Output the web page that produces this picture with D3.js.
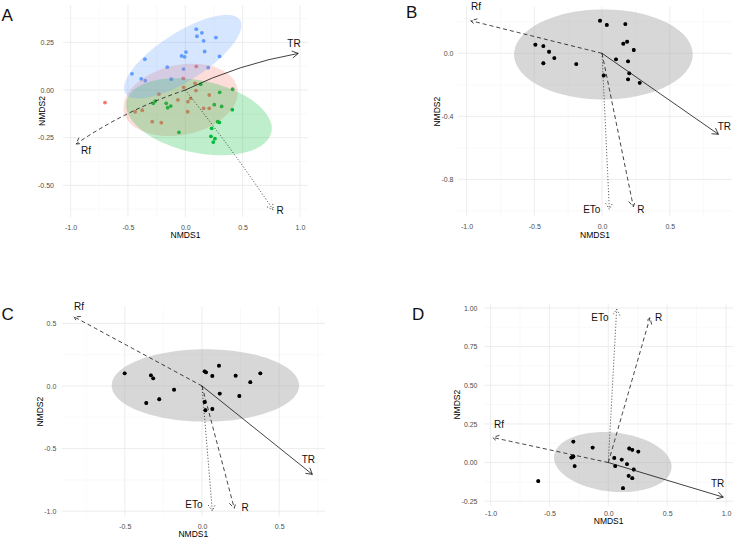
<!DOCTYPE html>
<html>
<head>
<meta charset="utf-8">
<script src="https://cdn.jsdelivr.net/npm/d3@7"></script>
<style>
body { margin: 0; background: #fff; }
text { font-family: "Liberation Sans", Arial, sans-serif; }
</style>
</head>
<body>
<svg id="chart" width="735" height="538"></svg>
<script>
// ---- data (NMDS scores, envfit vectors, ellipses) ----

// panel A: three groups of sites
var ptsA_red = [[-0.700,-0.066],[0.096,0.124],[-0.017,0.061],[-0.014,0.014],[0.085,0.035],[0.093,-0.003],
    [-0.229,-0.021],[-0.064,-0.052],[0.023,-0.061],[0.046,-0.044],[0.209,-0.026],[0.160,-0.096],
    [0.209,-0.096],[0.021,-0.114],[-0.437,-0.114],[-0.375,-0.106],[-0.288,-0.166],[-0.209,-0.171]];
var ptsA_green = [[0.134,0.030],[0.413,0.004],[0.300,-0.012],[-0.262,-0.058],[-0.279,-0.070],[-0.166,-0.070],
    [-0.154,-0.093],[-0.127,-0.084],[0.253,-0.077],[0.317,-0.086],[0.410,-0.103],[0.282,-0.166],
    [0.297,-0.170],[0.230,-0.201],[-0.055,-0.222],[0.224,-0.243],[0.259,-0.255],[0.244,-0.273]];
var ptsA_blue = [[0.096,0.319],[0.145,0.300],[0.102,0.282],[0.267,0.275],[0.160,0.258],[0.006,0.199],
    [0.169,0.202],[-0.032,0.179],[-0.006,0.174],[0.299,0.176],[-0.352,0.162],[-0.157,0.120],
    [-0.015,0.110],[0.200,0.117],[-0.465,0.085],[-0.384,0.059],[-0.349,0.049],[-0.122,0.057]];
// ellipse: centre x, centre y, first half-axis (x,y), second half-axis (x,y)
var ellA_red   = [-0.040,-0.052, 0.494, 0.063, 0.064,-0.179];
var ellA_green = [ 0.119,-0.140, 0.631,-0.081,-0.065,-0.185];
var ellA_blue  = [-0.022, 0.175, 0.499, 0.192, 0.113,-0.106];
var vecA_names = ["TR", "Rf", "R"];
var vecA = [[0.985,0.192],[-0.953,-0.283],[0.767,-0.629]];
var labA = [[0.948,0.245],[-0.866,-0.318],[0.826,-0.633]];
var typeA = ["solid", "dashed", "dotted"];
var bendA = [0.07, -0.07, 0.02];

// panel B
var ptsB = [[-0.015,0.207],[0.035,0.180],[0.172,0.186],[-0.492,0.055],[-0.433,0.046],[-0.391,0.010],
    [-0.352,-0.030],[-0.433,-0.063],[-0.190,-0.068],[0.157,0.061],[0.185,0.074],[0.234,0.021],
    [0.103,-0.038],[0.192,-0.051],[0.201,-0.127],[0.192,-0.165],[0.278,-0.187],[0.012,-0.140]];
var ellB = [0.010,-0.007, 0.659,0, 0,0.286];
var vecB_names = ["Rf", "TR", "ETo", "R"];
var vecB = [[-0.969,0.207],[0.859,-0.514],[0.054,-0.990],[0.231,-0.974]];
var labB = [[-0.930,0.300],[0.903,-0.462],[-0.076,-0.990],[0.286,-0.990]];
var typeB = ["dashed", "solid", "dotted", "dashed"];

// panel C
var ptsC = [[-0.501,0.101],[-0.331,0.085],[-0.316,0.061],[-0.181,-0.030],[-0.361,-0.136],[-0.277,-0.106],
    [0.017,0.117],[0.026,0.109],[0.110,0.162],[0.067,0.080],[0.218,0.082],[0.378,0.101],
    [0.313,0.030],[0.115,-0.061],[0.242,-0.080],[0.017,-0.128],[0.022,-0.194],[0.067,-0.184]];
var ellC = [0.022,0.004, 0.607,0, 0,0.289];
var vecC_names = ["Rf", "TR", "ETo", "R"];
var vecC = [[-0.830,0.553],[0.715,-0.706],[0.067,-0.998],[0.209,-0.977]];
var labC = [[-0.797,0.633],[0.689,-0.591],[-0.052,-0.945],[0.279,-0.972]];
var typeC = ["dashed", "solid", "dotted", "dashed"];

// panel D
var ptsD = [[-0.595,-0.120],[-0.297,0.136],[-0.133,0.097],[-0.297,0.039],[-0.314,0.032],[-0.305,0.036],
    [-0.286,-0.023],[0.178,0.091],[0.204,0.082],[0.255,0.071],[0.051,0.030],[0.114,0.019],
    [0.059,-0.023],[0.159,-0.010],[0.216,-0.045],[0.173,-0.086],[0.204,-0.101],[0.125,-0.166]];
var ellD = [0.038,0.003, 0.499,-0.040, -0.026,-0.190];
var vecD_names = ["ETo", "R", "Rf", "TR"];
var vecD = [[0.071,0.992],[0.354,0.937],[-0.982,0.162],[0.977,-0.224]];
var labD = [[-0.071,0.940],[0.428,0.940],[-0.929,0.244],[0.929,-0.133]];
var typeD = ["dotted", "dashed", "dashed", "solid"];

// axis breaks
var xTicksA = [-1, -0.5, 0, 0.5, 1], xMinorA = [-0.75, -0.25, 0.25, 0.75];
var yTicksA = [0.25, 0, -0.25, -0.5], yMinorA = [0.375, 0.125, -0.125, -0.375, -0.625];
var xTicksB = [-1, -0.5, 0, 0.5], xMinorB = [-0.75, -0.25, 0.25, 0.75];
var yTicksB = [0, -0.4, -0.8], yMinorB = [0.2, -0.2, -0.6, -1.0];
var xTicksC = [-0.5, 0, 0.5], xMinorC = [-0.75, -0.25, 0.25, 0.75];
var yTicksC = [0.5, 0, -0.5, -1], yMinorC = [0.25, -0.25, -0.75];
var xTicksD = [-1, -0.5, 0, 0.5, 1], xMinorD = [-0.75, -0.25, 0.25, 0.75];
var yTicksD = [1, 0.75, 0.5, 0.25, 0, -0.25], yMinorD = [0.875, 0.625, 0.375, 0.125, -0.125];

var dashes = { solid: null, dashed: "4,3", dotted: "1,2" };

var svg = d3.select("#chart");

function ellipsePoints(e) {
    var out = [];
    for (var k = 0; k < 120; k++) {
        var t = 2 * Math.PI * k / 120;
        out.push([e[0] + e[2] * Math.cos(t) + e[4] * Math.sin(t),
                  e[1] + e[3] * Math.cos(t) + e[5] * Math.sin(t)]);
    }
    return out;
}

function drawPanel(p) {
    var g = svg.append("g");

    var x = d3.scaleLinear().domain(p.xdom).range([p.left, p.right]);
    var y = d3.scaleLinear().domain(p.ydom).range([p.bottom, p.top]);

    // grid (theme_minimal)
    g.selectAll(".gxm").data(p.xMinor).enter().append("line")
        .attr("x1", d => x(d)).attr("x2", d => x(d)).attr("y1", p.top).attr("y2", p.bottom)
        .attr("stroke", "#f2f2f2").attr("stroke-width", 0.5);
    g.selectAll(".gym").data(p.yMinor).enter().append("line")
        .attr("y1", d => y(d)).attr("y2", d => y(d)).attr("x1", p.left).attr("x2", p.right)
        .attr("stroke", "#f2f2f2").attr("stroke-width", 0.5);
    g.selectAll(".gx").data(p.xTicks).enter().append("line")
        .attr("x1", d => x(d)).attr("x2", d => x(d)).attr("y1", p.top).attr("y2", p.bottom)
        .attr("stroke", "#e8e8e8").attr("stroke-width", 0.8);
    g.selectAll(".gy").data(p.yTicks).enter().append("line")
        .attr("y1", d => y(d)).attr("y2", d => y(d)).attr("x1", p.left).attr("x2", p.right)
        .attr("stroke", "#e8e8e8").attr("stroke-width", 0.8);

    // axes, text only
    var xAxis = d3.axisBottom(x).tickValues(p.xTicks).tickSize(0)
        .tickFormat(d => d.toFixed(1)).tickPadding(p.xlabBase - p.bottom - 0.71 * 7);
    g.append("g").attr("transform", "translate(0," + p.bottom + ")").call(xAxis)
        .call(a => a.select(".domain").remove())
        .selectAll("text").attr("font-size", 7).attr("fill", "#4d4d4d")
        .attr("font-family", "Liberation Sans, Arial, sans-serif");

    var yAxis = d3.axisLeft(y).tickValues(p.yTicks).tickSize(0)
        .tickFormat(d => d.toFixed(p.yDigits)).tickPadding(p.left - p.ylabX);
    g.append("g").attr("transform", "translate(" + p.left + ",0)").call(yAxis)
        .call(a => a.select(".domain").remove())
        .selectAll("text").attr("font-size", 7).attr("fill", "#4d4d4d")
        .attr("font-family", "Liberation Sans, Arial, sans-serif");

    // axis titles
    g.append("text").attr("x", (p.left + p.right) / 2).attr("y", p.xtitleBase)
        .attr("text-anchor", "middle").attr("font-size", 8.5).text("NMDS1");
    g.append("text")
        .attr("transform", "translate(" + [p.ytitleX, (p.top + p.bottom) / 2] + ") rotate(-90)")
        .attr("text-anchor", "middle").attr("dominant-baseline", "central")
        .attr("font-size", 8.5).text("NMDS2");

    // points first, ellipses laid over them
    p.points.forEach(function(s) {
        g.selectAll(null).data(s.pts).enter().append("circle")
            .attr("cx", d => x(d[0])).attr("cy", d => y(d[1]))
            .attr("r", 1.9).attr("fill", s.color);
    });

    var line = d3.line().x(d => x(d[0])).y(d => y(d[1])).curve(d3.curveLinearClosed);
    p.ellipses.forEach(function(e) {
        g.append("path").attr("d", line(ellipsePoints(e.par)))
            .attr("fill", e.color).attr("fill-opacity", e.alpha).attr("stroke", "none");
    });

    // points redrawn on grey ellipses (they sit above in B, C, D)
    if (p.pointsOnTop) {
        p.points.forEach(function(s) {
            g.selectAll(null).data(s.pts).enter().append("circle")
                .attr("cx", d => x(d[0])).attr("cy", d => y(d[1]))
                .attr("r", 1.9).attr("fill", s.color);
        });
    }

    // environmental vectors
    p.vec.forEach(function(v, i) {
        var x0 = x(0), y0 = y(0), x1 = x(v[0]), y1 = y(v[1]);
        var dx = x1 - x0, dy = y1 - y0;
        var bend = p.bend ? p.bend[i] : 0;
        var cx = (x0 + x1) / 2 + bend * dy;
        var cy = (y0 + y1) / 2 - bend * dx;
        var dash = dashes[p.types[i]];

        g.append("path")
            .attr("d", "M" + x0 + "," + y0 + "Q" + cx + "," + cy + " " + x1 + "," + y1)
            .attr("fill", "none").attr("stroke", "#111").attr("stroke-width", 0.8)
            .attr("stroke-dasharray", dash);

        // open arrow head
        var ang = Math.atan2(y1 - cy, x1 - cx), len = 7, spread = Math.PI / 6;
        var hx1 = x1 - len * Math.cos(ang - spread), hy1 = y1 - len * Math.sin(ang - spread);
        var hx2 = x1 - len * Math.cos(ang + spread), hy2 = y1 - len * Math.sin(ang + spread);
        g.append("path")
            .attr("d", "M" + hx1 + "," + hy1 + "L" + x1 + "," + y1 + "L" + hx2 + "," + hy2)
            .attr("fill", "none").attr("stroke", "#111").attr("stroke-width", 0.8)
            .attr("stroke-dasharray", dash);

        g.append("text").attr("x", x(p.lab[i][0])).attr("y", y(p.lab[i][1]))
            .attr("text-anchor", "middle").attr("dominant-baseline", "central")
            .attr("font-size", 10).attr("fill", "#111").text(p.names[i]);
    });

    // panel letter
    svg.append("text").attr("x", p.letterX).attr("y", p.letterY)
        .attr("font-size", 17).attr("fill", "#111").text(p.letter);
}

drawPanel({
    letter: "A", letterX: 1.5, letterY: 20.5,
    left: 63, right: 308, top: 5, bottom: 217,
    xdom: [-1.066, 1.07], ydom: [-0.666, 0.446],
    xTicks: xTicksA, xMinor: xMinorA, yTicks: yTicksA, yMinor: yMinorA, yDigits: 2,
    xlabBase: 230.2, ylabX: 54, xtitleBase: 238.2, ytitleX: 42,
    points: [{ pts: ptsA_red, color: "#F8766D" }, { pts: ptsA_green, color: "#00BA38" },
             { pts: ptsA_blue, color: "#619CFF" }],
    ellipses: [{ par: ellA_red, color: "#F8766D", alpha: 0.25 },
               { par: ellA_green, color: "#00BA38", alpha: 0.25 },
               { par: ellA_blue, color: "#619CFF", alpha: 0.25 }],
    vec: vecA, lab: labA, names: vecA_names, types: typeA, bend: bendA
});

drawPanel({
    letter: "B", letterX: 406, letterY: 17.5,
    left: 458, right: 732, top: 6.7, bottom: 216.7,
    xdom: [-1.063, 0.959], ydom: [-1.037, 0.296],
    xTicks: xTicksB, xMinor: xMinorB, yTicks: yTicksB, yMinor: yMinorB, yDigits: 1,
    xlabBase: 229.2, ylabX: 453.5, xtitleBase: 238.2, ytitleX: 436.7,
    points: [{ pts: ptsB, color: "#000" }], pointsOnTop: true,
    ellipses: [{ par: ellB, color: "#a6a6a6", alpha: 0.45 }],
    vec: vecB, lab: labB, names: vecB_names, types: typeB
});

drawPanel({
    letter: "C", letterX: 1.5, letterY: 320,
    left: 61.7, right: 325, top: 306.7, bottom: 516.7,
    xdom: [-0.909, 0.797], ydom: [-1.044, 0.633],
    xTicks: xTicksC, xMinor: xMinorC, yTicks: yTicksC, yMinor: yMinorC, yDigits: 1,
    xlabBase: 529.2, ylabX: 56.3, xtitleBase: 537, ytitleX: 40,
    points: [{ pts: ptsC, color: "#000" }], pointsOnTop: true,
    ellipses: [{ par: ellC, color: "#a6a6a6", alpha: 0.45 }],
    vec: vecC, lab: labC, names: vecC_names, types: typeC
});

drawPanel({
    letter: "D", letterX: 412, letterY: 320,
    left: 484, right: 733.3, top: 303.3, bottom: 506,
    xdom: [-1.056, 1.062], ydom: [-0.281, 1.03],
    xTicks: xTicksD, xMinor: xMinorD, yTicks: yTicksD, yMinor: yMinorD, yDigits: 2,
    xlabBase: 516, ylabX: 477.5, xtitleBase: 524.2, ytitleX: 457.3,
    points: [{ pts: ptsD, color: "#000" }], pointsOnTop: true,
    ellipses: [{ par: ellD, color: "#a6a6a6", alpha: 0.45 }],
    vec: vecD, lab: labD, names: vecD_names, types: typeD
});
</script>
</body>
</html>
